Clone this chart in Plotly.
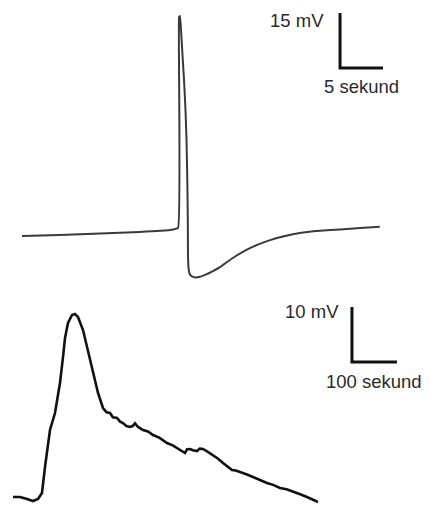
import plotly.graph_objects as go

# Action potential (top), time in seconds, membrane potential in mV
ap_time = [0, 4.4, 9.1, 13.7, 17.2, 18.14, 18.26, 18.37, 18.49, 18.66, 18.84, 19.01, 19.13,
           19.22, 19.28, 19.30, 19.36, 19.53, 19.77, 20.12, 20.58, 21.28, 22.09, 23.02, 24.5,
           26.5, 28.5, 30.6, 32.3, 34.65, 37.0, 39.3, 41.6]
ap_mv = [-70, -69.7, -69.3, -68.9, -68.4, -67.8, -10.3, -10, -13.8, -20.6, -27.5, -35.6, -43.8,
         -54.7, -65.6, -75.2, -78.7, -80.5, -81.0, -81.3, -81.2, -80.6, -79.7, -78.5, -76,
         -73.3, -71.4, -70, -69.2, -68.6, -68.2, -67.8, -67.5]

# Slow wave (bottom), time in seconds, membrane potential in mV
slow_time = [0, 15.6, 31.1, 44.4, 55.6, 64.4, 71.1, 82.2, 93.3, 104.4, 111.1, 115.6, 122.2,
             131.1, 137.8, 144.4, 155.6, 166.7, 177.8, 188.9, 200, 208, 215.6, 222, 231.1,
             238, 244.4, 252, 260, 266, 271.1, 277.8, 288.9, 300, 311.1, 325, 342.2, 355,
             364.4, 373, 382.2, 387, 393.3, 400, 408.9, 415, 422.2, 433, 444.4, 455, 466.7,
             476, 486.7, 495, 504.4, 520, 533.3, 548, 564.4, 578, 593.3, 608, 622.2, 638,
             653.3, 665, 677.8]
slow_mv = [-70, -70, -70.36, -70.73, -70.36, -69.27, -64.55, -57.82, -54.73, -49.27, -44.55,
           -41.09, -38.36, -36.91, -36.73, -37.27, -39.64, -43.27, -47.27, -51.09, -53.82,
           -54.6, -54.73, -55.5, -55.64, -56.3, -56.55, -57.1, -57.27, -57.1, -56.6, -57.27,
           -57.82, -58.1, -58.73, -59.2, -60.18, -60.6, -61.09, -61.5, -62.0, -61.3, -61.27,
           -61.5, -61.64, -61.2, -61.27, -61.8, -62.36, -63.0, -63.82, -64.4, -65.09, -65.2,
           -65.45, -65.9, -66.36, -66.9, -67.45, -67.8, -68.36, -68.6, -69.09, -69.5, -70.0,
           -70.4, -70.91]

# Scale bars: origin (s, mV), horizontal length (s), vertical length (mV)
top_bar_origin = (36.98, -24.18)
top_bar_size = (5, 15)
top_bar_labels = ["15 mV", "5 sekund"]

bottom_bar_origin = (753.3, -45.45)
bottom_bar_size = (100, 10)
bottom_bar_labels = ["10 mV", "100 sekund"]

LABEL_FONT = dict(family="Liberation Sans, Arial, sans-serif", size=18.5, color="#2a2a2a")

fig = go.Figure()

fig.add_trace(go.Scatter(x=ap_time, y=ap_mv, mode="lines",
                         line=dict(color="#3a3a3a", width=2, shape="spline", smoothing=0.3),
                         xaxis="x", yaxis="y", hoverinfo="skip"))
fig.add_trace(go.Scatter(x=slow_time, y=slow_mv, mode="lines",
                         line=dict(color="#111111", width=2.6),
                         xaxis="x2", yaxis="y2", hoverinfo="skip"))


def add_scale_bar(origin, size, labels, xa, ya, gap_x, shift_v, shift_h):
    x0, y0 = origin
    dx, dy = size
    fig.add_trace(go.Scatter(x=[x0, x0, x0 + dx], y=[y0 + dy, y0, y0], mode="lines",
                             line=dict(color="#111111", width=3),
                             xaxis=xa, yaxis=ya, hoverinfo="skip"))
    # voltage label to the left of the vertical bar's top
    fig.add_annotation(x=x0, y=y0 + dy, xref=xa, yref=ya, text=labels[0],
                       showarrow=False, xanchor="right", yanchor="middle",
                       xshift=-gap_x, yshift=shift_v, font=LABEL_FONT)
    # time label centred under the horizontal bar
    fig.add_annotation(x=x0 + dx / 2, y=y0, xref=xa, yref=ya, text=labels[1],
                       showarrow=False, xanchor="center", yanchor="middle",
                       yshift=shift_h, font=LABEL_FONT)


add_scale_bar(top_bar_origin, top_bar_size, top_bar_labels, "x", "y", 14, -8, -19)
add_scale_bar(bottom_bar_origin, bottom_bar_size, bottom_bar_labels, "x2", "y2", 11, -5, -20)

hidden = dict(visible=False, showgrid=False, zeroline=False, fixedrange=True)
fig.update_layout(
    width=430, height=506,
    margin=dict(l=0, r=0, t=0, b=0),
    paper_bgcolor="white", plot_bgcolor="white",
    showlegend=False,
    xaxis=dict(domain=[0, 1], range=[-2.558, 47.44], anchor="y", **hidden),
    yaxis=dict(domain=[0.4269, 1], range=[-84.73, -5.64], anchor="x", **hidden),
    xaxis2=dict(domain=[0, 1], range=[-28.9, 926.7], anchor="y2", **hidden),
    yaxis2=dict(domain=[0, 0.4269], range=[-71.64, -32.36], anchor="x2", **hidden),
)

fig.write_html("out.html")
